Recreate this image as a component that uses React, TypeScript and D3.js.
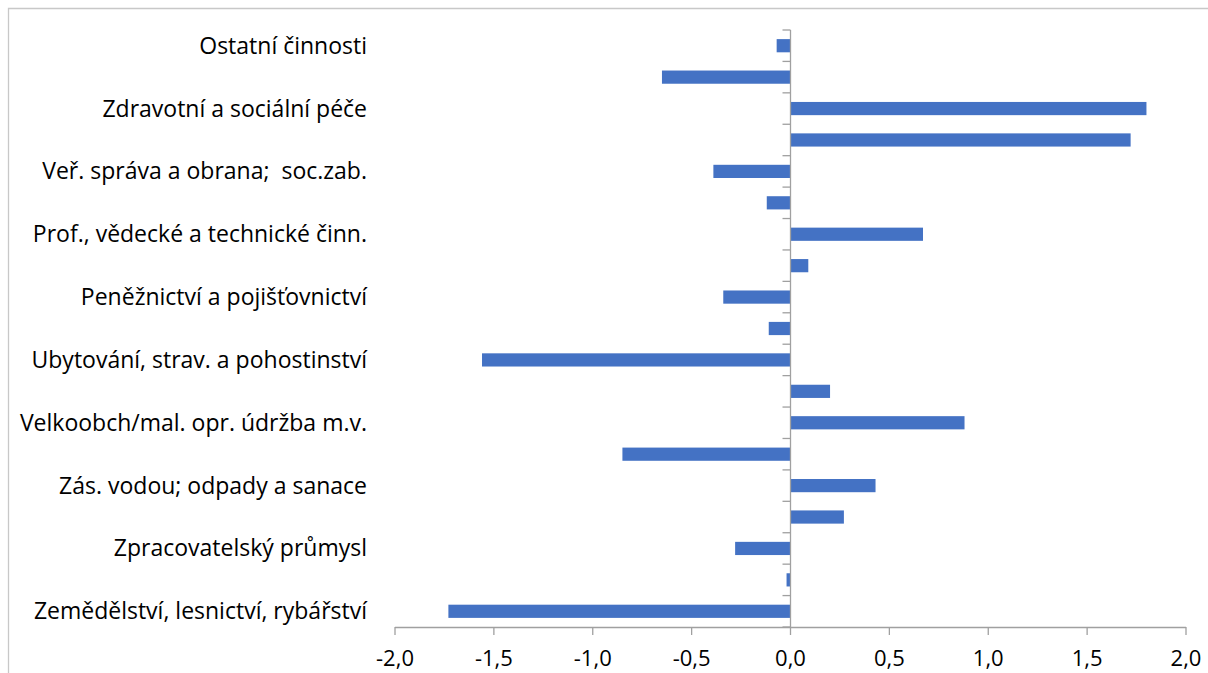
import React, { useEffect, useRef } from 'react';
import * as d3 from 'd3';

// categories bottom -> top (CZ-NACE sections A..S)
const categories: string[] = [
    'Zemědělství, lesnictví, rybářství',
    'Těžba a dobývání',
    'Zpracovatelský průmysl',
    'Energetika',
    'Zás. vodou; odpady a sanace',
    'Stavebnictví',
    'Velkoobch/mal. opr. údržba m.v.',
    'Doprava a skladování',
    'Ubytování, strav. a pohostinství',
    'Informační a komunikační čin.',
    'Peněžnictví a pojišťovnictví',
    'Činnosti v oblasti nemovitostí',
    'Prof., vědecké a technické činn.',
    'Administrativní a podpůrné čin.',
    'Veř. správa a obrana;  soc.zab.',
    'Vzdělávání',
    'Zdravotní a sociální péče',
    'Kulturní, zábavní a rekreační',
    'Ostatní činnosti',
];

const values: number[] = [
    -1.73, -0.02, -0.28, 0.27, 0.43, -0.85, 0.88, 0.20, -1.56, -0.11,
    -0.34, 0.09, 0.67, -0.12, -0.39, 1.72, 1.80, -0.65, -0.07,
];

const xTicks: number[] = [-2, -1.5, -1, -0.5, 0, 0.5, 1, 1.5, 2];

const W = 1208;
const H = 673;
const FONT = '"Open Sans", Lato, sans-serif';

const Chart: React.FC = () => {
    const svgRef = useRef<SVGSVGElement>(null);

    useEffect(() => {
        const svg = d3.select(svgRef.current);
        svg.selectAll('*').remove();

        const left = 395, right = 1186, top = 30, bottom = 627;

        // chart frame
        svg.append('path')
            .attr('d', `M8.5,${H} V8.5 H${W}`)
            .attr('fill', 'none')
            .attr('stroke', '#c8c8c8')
            .attr('stroke-width', 1.3);

        const x = d3.scaleLinear().domain([-2, 2]).range([left, right]);
        const y = d3.scaleBand<string>()
            .domain([...categories].reverse())
            .range([top, bottom])
            .paddingInner(0.58)
            .paddingOuter(0.29);

        const band = (bottom - top) / categories.length;

        // bars
        svg.selectAll('.bar')
            .data(categories)
            .enter().append('rect')
            .attr('class', 'bar')
            .attr('x', (d, i) => x(Math.min(0, values[i])))
            .attr('width', (d, i) => Math.abs(x(values[i]) - x(0)))
            .attr('y', d => y(d) || 0)
            .attr('height', y.bandwidth())
            .attr('fill', '#4472c4');

        // x axis
        const xAxis = svg.append('g');
        xAxis.append('line')
            .attr('x1', left).attr('x2', right)
            .attr('y1', bottom + 0.5).attr('y2', bottom + 0.5)
            .attr('stroke', '#a0a0a0').attr('stroke-width', 1.3);
        xAxis.selectAll('.xt')
            .data(xTicks)
            .enter().append('line')
            .attr('x1', d => x(d)).attr('x2', d => x(d))
            .attr('y1', bottom).attr('y2', bottom + 8)
            .attr('stroke', '#a0a0a0').attr('stroke-width', 1.3);
        xAxis.selectAll('.xl')
            .data(xTicks)
            .enter().append('text')
            .attr('x', d => x(d))
            .attr('y', 666)
            .attr('text-anchor', 'middle')
            .attr('font-family', FONT)
            .attr('font-size', 22)
            .attr('fill', '#000')
            .text(d => d3.format('.1f')(d).replace('.', ',').replace('−', '-'));

        // y axis at zero
        const x0 = x(0);
        svg.append('line')
            .attr('x1', x0).attr('x2', x0)
            .attr('y1', top).attr('y2', bottom)
            .attr('stroke', '#a0a0a0').attr('stroke-width', 1.3);
        svg.selectAll('.yt')
            .data(d3.range(categories.length + 1))
            .enter().append('line')
            .attr('x1', x0 - 8).attr('x2', x0)
            .attr('y1', i => top + i * band).attr('y2', i => top + i * band)
            .attr('stroke', '#a0a0a0').attr('stroke-width', 1.3);

        // category labels, every other one shown
        svg.selectAll('.yl')
            .data(categories.filter((d, i) => i % 2 === 0))
            .enter().append('text')
            .attr('x', 367)
            .attr('y', d => (y(d) || 0) + y.bandwidth() / 2)
            .attr('dy', '0.35em')
            .attr('text-anchor', 'end')
            .attr('font-family', FONT)
            .attr('font-size', 23)
            .attr('fill', '#000')
            .style('white-space', 'pre')
            .text(d => d);
    }, []);

    return <svg ref={svgRef} width={W} height={H} style={{ display: 'block' }}></svg>;
};

export default function App() {
    useEffect(() => {
        document.body.style.margin = '0';
    }, []);
    return <Chart />;
}
